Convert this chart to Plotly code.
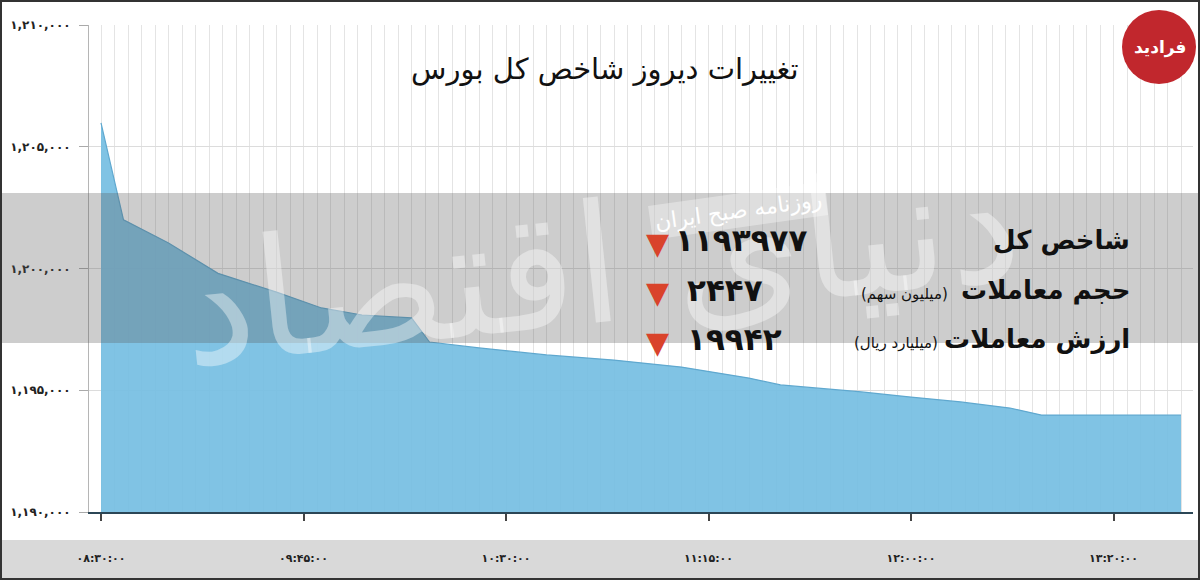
import plotly.graph_objects as go

# ---------------- data ----------------
times = ["08:30", "08:35", "08:45", "08:56", "09:09", "09:19", "09:28", "09:39",
         "09:43", "09:54", "10:09", "10:24", "10:39", "10:54", "11:01", "11:19",
         "11:30", "11:41", "11:52", "11:59", "12:30"]
index_values = [1205980, 1202000, 1201050, 1199800, 1199030, 1198380, 1198090, 1197970,
                1196980, 1196740, 1196450, 1196240, 1195950, 1195500, 1195220, 1194930,
                1194720, 1194520, 1194270, 1193980, 1193977]

x_tick_times = ["08:30", "09:15", "10:00", "10:45", "11:30", "12:15"]
x_tick_labels = ["۰۸:۳۰:۰۰", "۰۹:۴۵:۰۰", "۱۰:۳۰:۰۰", "۱۱:۱۵:۰۰", "۱۲:۰۰:۰۰", "۱۳:۲۰:۰۰"]
y_tick_vals = [1190000, 1195000, 1200000, 1205000, 1210000]
y_tick_labels = ["۱,۱۹۰,۰۰۰", "۱,۱۹۵,۰۰۰", "۱,۲۰۰,۰۰۰", "۱,۲۰۵,۰۰۰", "۱,۲۱۰,۰۰۰"]

title_text = "تغییرات دیروز شاخص کل بورس"
stat_labels = ["شاخص کل", "حجم معاملات", "ارزش معاملات"]
stat_units = ["", "(میلیون سهم)", "(میلیارد ریال)"]
stat_values = ["۱۱۹۳۹۷۷", "۲۴۴۷", "۱۹۹۴۲"]
logo_text = "فرادید"

DAY = "2024-01-01 "
xs = [DAY + t for t in times]

# ---------------- layout helpers ----------------
W, H = 1200, 580
L, R, T, B = 89, 7, 25, 68
PW, PH = W - L - R, H - T - B
def px(x):
    return (x - L) / PW
def py(y):
    return (H - B - y) / PH

FONT = "DejaVu Sans"

fig = go.Figure()
fig.add_trace(go.Scatter(
    x=xs, y=index_values, mode="lines",
    line=dict(color="#5fa8cf", width=1.2),
    fill="tozeroy", fillcolor="rgba(118,190,226,0.93)",
    hoverinfo="skip", showlegend=False,
))

shapes = []
# gray middle band (over everything)
shapes.append(dict(type="rect", xref="paper", yref="paper", layer="above",
                   x0=px(0), x1=px(W), y0=py(343), y1=py(193),
                   fillcolor="rgba(90,90,90,0.30)", line=dict(width=0)))
# bottom label strip
shapes.append(dict(type="rect", xref="paper", yref="paper", layer="below",
                   x0=px(1), x1=px(W - 1), y0=py(578), y1=py(540),
                   fillcolor="#d9d9d9", line=dict(width=0)))
# outer frame
shapes.append(dict(type="rect", xref="paper", yref="paper", layer="above",
                   x0=px(1), x1=px(W - 1), y0=py(H - 1), y1=py(1),
                   fillcolor="rgba(0,0,0,0)", line=dict(color="#333", width=2)))
# logo disc
shapes.append(dict(type="circle", xref="paper", yref="paper", layer="above",
                   x0=px(1122), x1=px(1196), y0=py(84), y1=py(10),
                   fillcolor="#c1272d", line=dict(width=0)))

ann = []
ann.append(dict(text=title_text, x=px(605), y=py(50), xref="paper", yref="paper",
                showarrow=False, font=dict(family=FONT, size=29, color="#111")))
# watermark
ann.append(dict(text="دنیای اقتصاد", x=px(600), y=py(265), xref="paper", yref="paper",
                showarrow=False, textangle=-6,
                font=dict(family=FONT, size=165, color="rgba(255,255,255,0.40)")))
# stamp
ann.append(dict(text="روزنامه صبح ایران", x=px(738), y=py(210), xref="paper", yref="paper",
                showarrow=False, textangle=-8, bgcolor="rgba(255,255,255,0.35)",
                borderpad=4, font=dict(family=FONT, size=22, color="white")))
# logo text
ann.append(dict(text="<b>" + logo_text + "</b>", x=px(1188), y=py(47), xref="paper",
                yref="paper", xanchor="right", yanchor="middle", showarrow=False,
                font=dict(family=FONT, size=17, color="white")))

rows_y = [240, 290, 339]
for i, yy in enumerate(rows_y):
    ann.append(dict(text="<b>" + stat_labels[i] + "</b>", x=px(1132), y=py(yy),
                    xref="paper", yref="paper", xanchor="right", showarrow=False,
                    font=dict(family=FONT, size=26, color="#111")))
    if stat_units[i]:
        unit_x = 950 if i == 1 else 940
        ann.append(dict(text=stat_units[i], x=px(unit_x), y=py(yy + 4),
                        xref="paper", yref="paper", xanchor="right", showarrow=False,
                        font=dict(family=FONT, size=15, color="#111")))
    ann.append(dict(text="▼", x=px(657), y=py(yy + 3), xref="paper", yref="paper",
                    showarrow=False, font=dict(family=FONT, size=30, color="#d9432b")))
    ann.append(dict(text="<b>" + stat_values[i] + "</b>", x=px(673 if i == 0 else 685),
                    y=py(yy), xref="paper", yref="paper", xanchor="left", showarrow=False,
                    font=dict(family=FONT, size=31, color="#111")))

fig.update_layout(
    width=W, height=H,
    margin=dict(l=L, r=R, t=T, b=B),
    paper_bgcolor="white", plot_bgcolor="white",
    shapes=shapes, annotations=ann,
    showlegend=False,
    font=dict(family=FONT),
)
fig.update_xaxes(
    type="date",
    range=[DAY + "08:27:20", DAY + "12:32:40"],
    tickvals=[DAY + t for t in x_tick_times], ticktext=x_tick_labels,
    ticks="outside", ticklen=7, tickwidth=2, tickcolor="#444",
    ticklabelstandoff=28,
    tickfont=dict(family=FONT, size=11, color="#222", weight="bold"),
    showline=True, linecolor="#2b4656", linewidth=2,
    showgrid=False,
    minor=dict(showgrid=True, gridcolor="#e4e4e4", gridwidth=1,
               tick0=DAY + "08:30", dtick=180000),
    zeroline=False,
)
fig.update_yaxes(
    range=[1190000, 1210000],
    tickvals=y_tick_vals, ticktext=y_tick_labels,
    ticks="outside", ticklen=9, tickcolor="#aaa",
    ticklabelstandoff=6,
    tickfont=dict(family=FONT, size=12, color="#222", weight="bold"),
    showline=True, linecolor="#b5b5b5", linewidth=1,
    showgrid=True, gridcolor="#dcdcdc", gridwidth=1,
    zeroline=False,
)

fig.write_html("out.html", config={"displayModeBar": False},
               post_script="document.body.style.margin='0px';document.body.style.overflow='hidden';")
